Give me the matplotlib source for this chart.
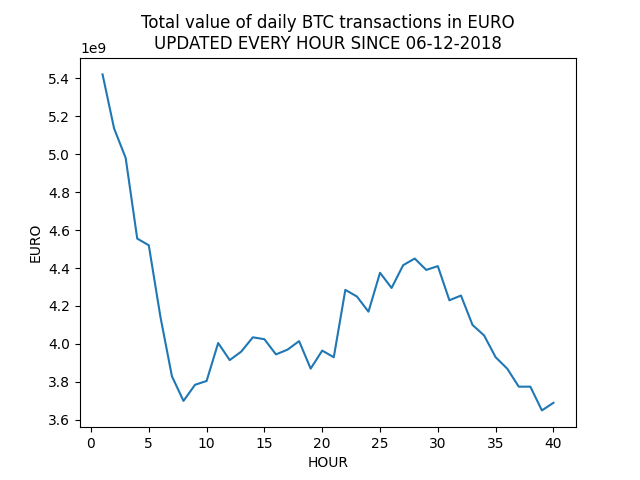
import numpy as np
import matplotlib
matplotlib.use('Agg')
import matplotlib.pyplot as plt
from matplotlib.ticker import MultipleLocator

# hourly totals (EUR)
hours = list(range(1, 41))
euro_values = [5.42, 5.135, 4.98, 4.555, 4.52, 4.145, 3.83, 3.70, 3.785, 3.805,
               4.005, 3.915, 3.96, 4.035, 4.025, 3.945, 3.97, 4.015, 3.87, 3.965,
               3.93, 4.285, 4.25, 4.17, 4.375, 4.295, 4.415, 4.45, 4.39, 4.41,
               4.23, 4.255, 4.10, 4.045, 3.93, 3.87, 3.775, 3.775, 3.65, 3.69]

fig, ax = plt.subplots(figsize=(6.4, 4.8), dpi=100)
ax.plot(hours, np.array(euro_values) * 1e9)
ax.yaxis.set_major_locator(MultipleLocator(0.2e9))
ax.set_title('Total value of daily BTC transactions in EURO\nUPDATED EVERY HOUR SINCE 06-12-2018')
ax.set_xlabel('HOUR')
ax.set_ylabel('EURO')
fig.savefig('out.png')
